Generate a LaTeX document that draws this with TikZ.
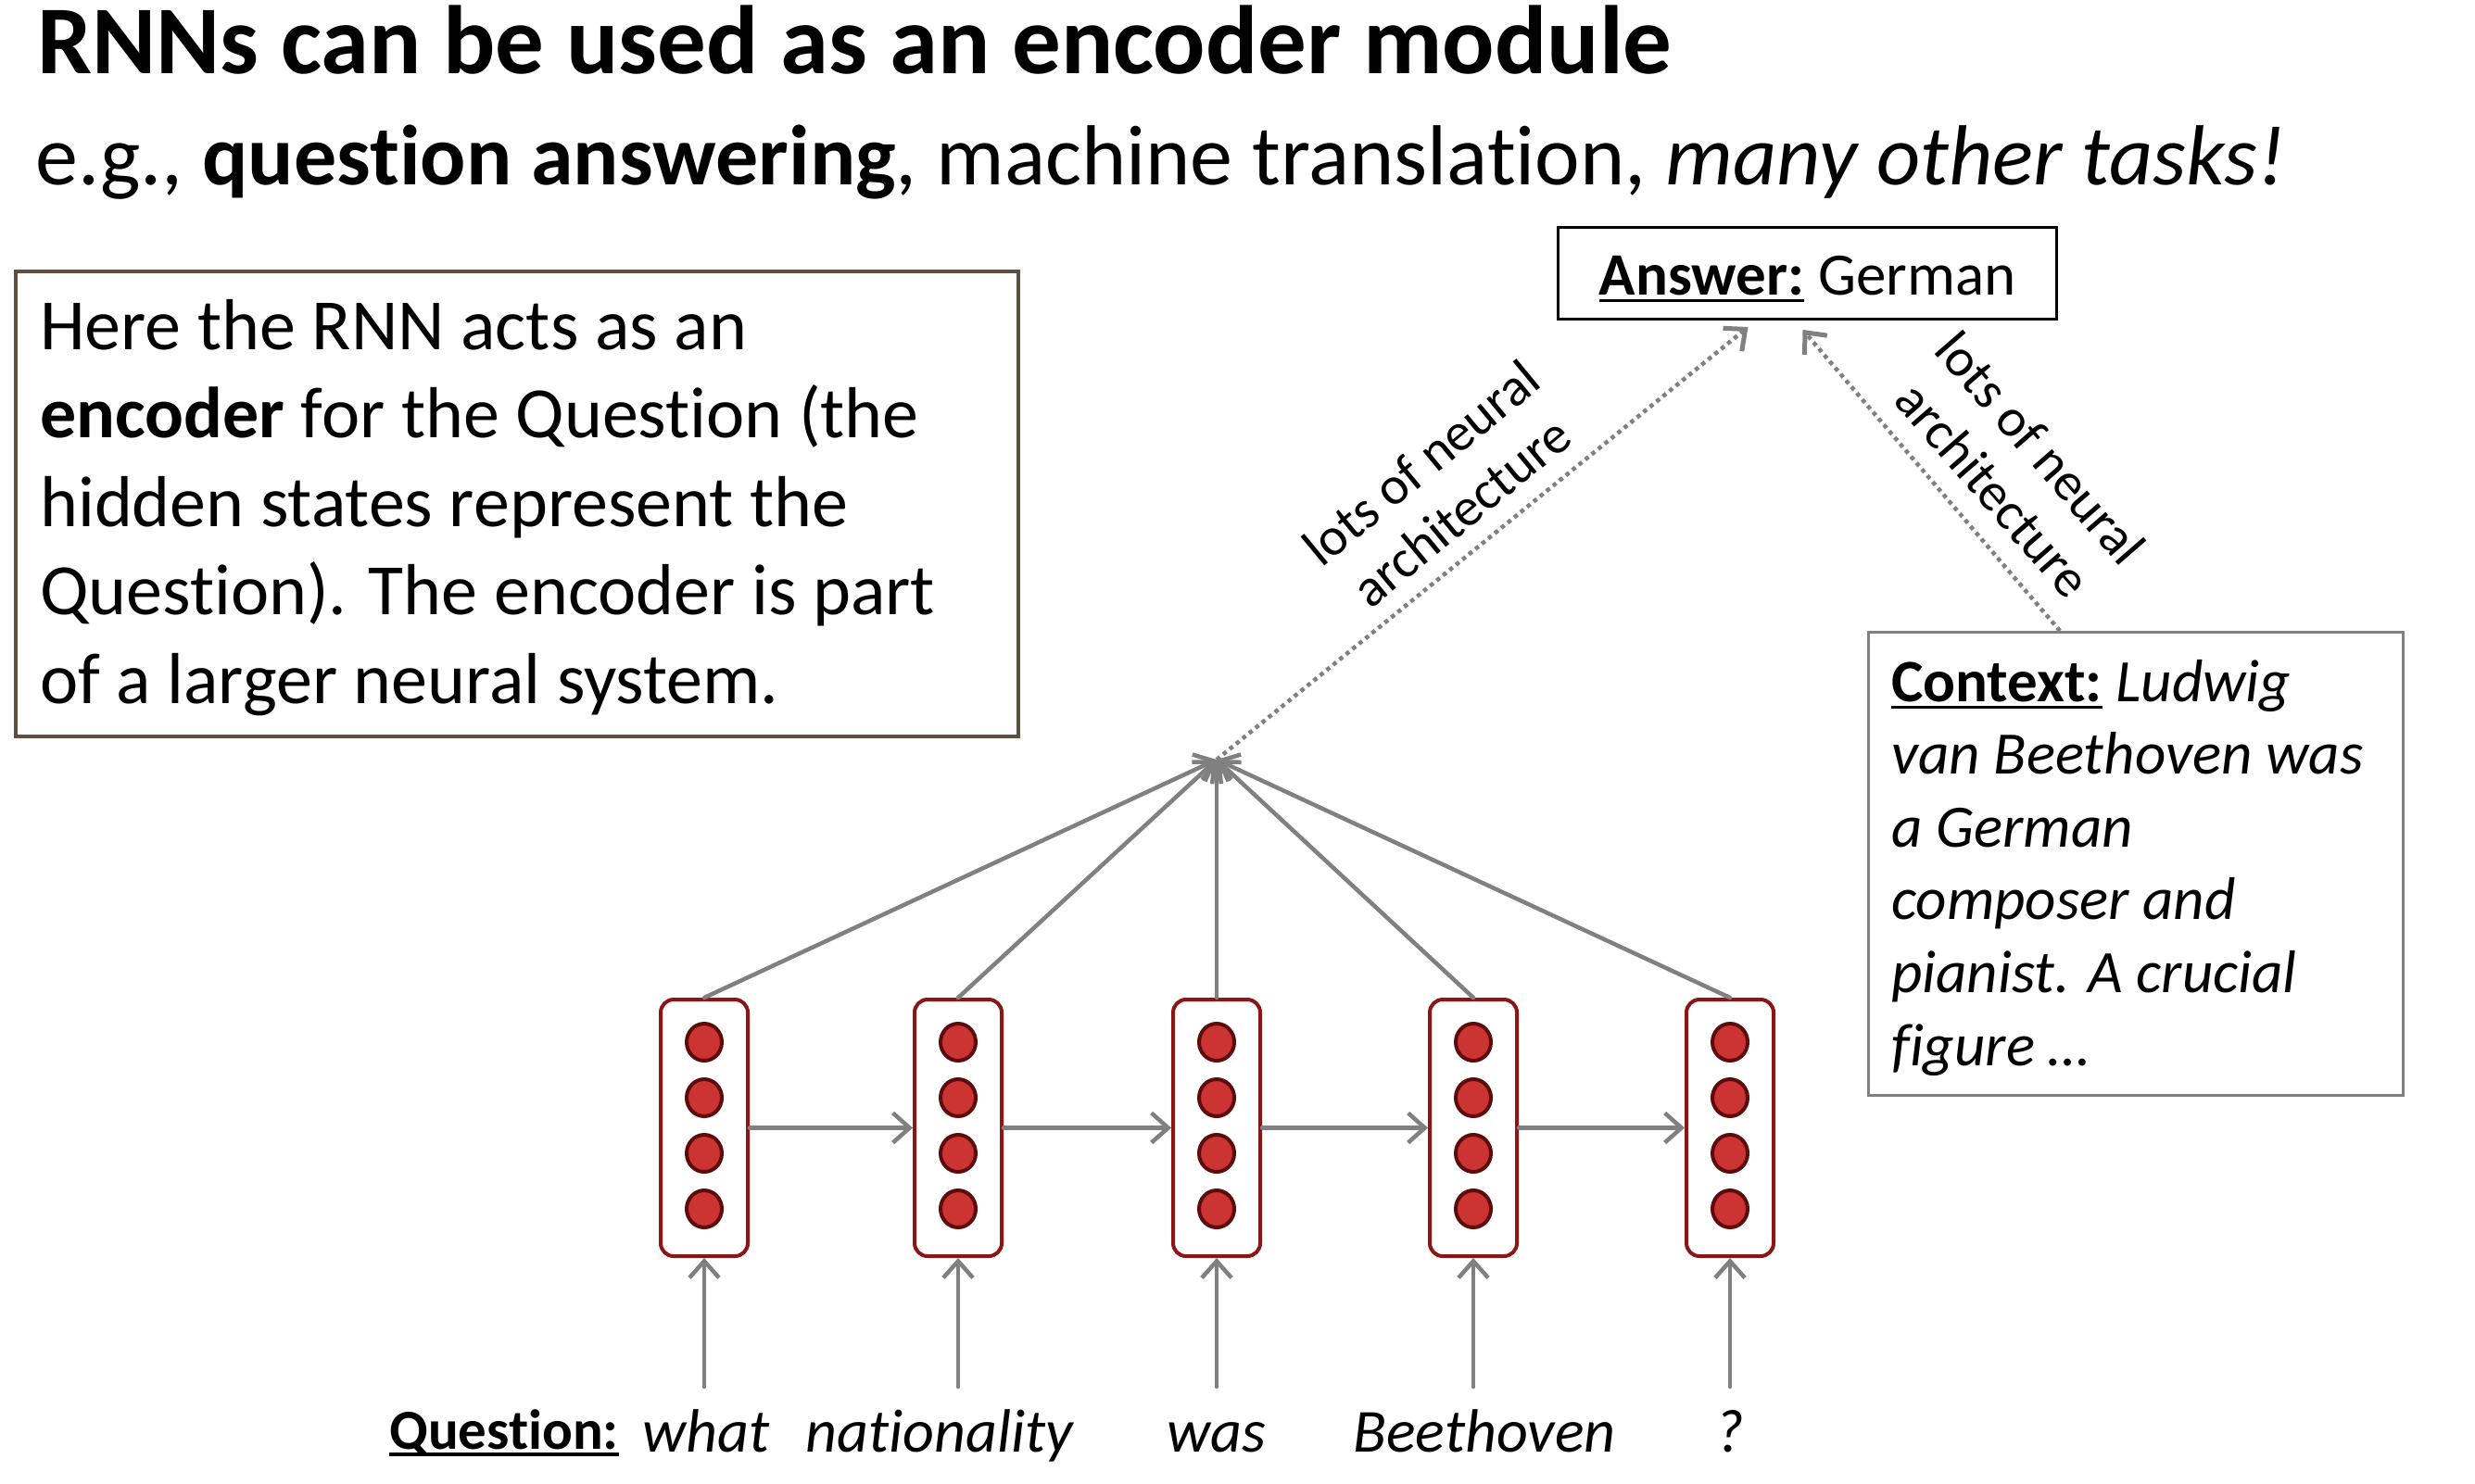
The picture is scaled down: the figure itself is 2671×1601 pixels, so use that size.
\documentclass[tikz,border=0pt]{standalone}
\usepackage{fontspec}
\setmainfont{Carlito}[Ligatures=NoCommon]
\usetikzlibrary{arrows.meta,calc,shapes.geometric}
\definecolor{arrowgray}{RGB}{128,128,128}
\definecolor{cellred}{RGB}{140,22,22}
\definecolor{dotfill}{RGB}{204,51,51}
\definecolor{dotedge}{RGB}{94,11,11}
\definecolor{boxbrown}{RGB}{94,78,62}
\newcommand\myul[1]{\setbox0\hbox{#1}\rlap{\rule[-0.13em]{\wd0}{0.06em}}\box0\relax}
\begin{document}
\begin{tikzpicture}[x=1pt,y=-1pt,
  cell/.style={draw=cellred, line width=4pt, rounded corners=14pt, minimum width=94pt, minimum height=277pt, inner sep=0pt, fill=white},
  dotnode/.style={ellipse, draw=dotedge, fill=dotfill, line width=4pt, minimum width=38pt, minimum height=40pt, inner sep=0pt},
  garrow/.style={draw=arrowgray, line width=4.5pt, line cap=round, -{Straight Barb[length=18pt,width=32pt]}},
  dotarrow/.style={draw=arrowgray, line width=4.5pt, dash pattern=on 4.5pt off 4.5pt, -{Straight Barb[length=18pt,width=32pt,line width=5pt]}},
  qword/.style={anchor=base, inner sep=0pt, font=\fontsize{66}{80}\selectfont\itshape},
  archlabel/.style={align=center, inner sep=0pt, font=\fontsize{58}{68}\selectfont}
]
\fill[white] (0,0) rectangle (2671,1601);
\useasboundingbox (0,0) rectangle (2671,1601);

% titles
\node[anchor=base west, inner sep=0pt, font=\fontsize{105}{126}\selectfont\bfseries] (title) at (40,79) {RNNs can be used as an encoder module};
\node[anchor=base west, inner sep=0pt, font=\fontsize{92}{110}\selectfont] (subtitle) at (38,199) {e.g., \textbf{question answering}, machine translation, \textit{many other tasks!}};

% left explanation box
\node[draw=boxbrown, line width=4pt, minimum width=1082pt, minimum height=502pt, inner sep=0pt, anchor=north west] (leftbox) at (15,291) {};
\node[anchor=base west, inner sep=0pt, font=\fontsize{78}{95.5}\selectfont] (lefttext) at (43,377) {\vtop{%
  \hbox{Here the RNN acts as an}%
  \hbox{\textbf{encoder} for the Question (the}%
  \hbox{hidden states represent the}%
  \hbox{Question). The encoder is part}%
  \hbox{of a larger neural system.}}};

% answer box
\node[draw=black, line width=3pt, minimum width=538pt, minimum height=99pt, inner sep=0pt, text height=60pt, text depth=14pt, font=\fontsize{65}{78}\selectfont] (ans) at (1950.5,295) {\myul{\textbf{Answer:}} German};

% context box
\node[draw=arrowgray, line width=3pt, minimum width=577pt, minimum height=500pt, inner sep=0pt, anchor=north west] (ctx) at (2015,681) {};
\node[anchor=base west, inner sep=0pt, font=\fontsize{65}{78.6}\selectfont] (ctxtext) at (2041,757) {\vtop{%
  \hbox{\myul{\textbf{Context:}} \textit{Ludwig}}%
  \hbox{\textit{van Beethoven was}}%
  \hbox{\textit{a German}}%
  \hbox{\textit{composer and}}%
  \hbox{\textit{pianist. A crucial}}%
  \hbox{\textit{figure \dots}}}};

% RNN cells
\coordinate (conv) at (1313,820);
\foreach \x [count=\i] in {760,1034,1313,1590,1867} {
  \node[cell] (c\i) at (\x,1217.5) {};
  \foreach \k in {1,2,3,4} {
    \node[dotnode] (d\i\k) at (\x,{1125+60*(\k-1)}) {};
  }
  \coordinate (in\i) at (\x,1497);
  \draw[garrow] (in\i) -- (c\i.south);
  \draw[garrow] (c\i.north) -- (conv);
}
\draw[garrow] (c1.east) -- (c2.west);
\draw[garrow] (c2.east) -- (c3.west);
\draw[garrow] (c3.east) -- (c4.west);
\draw[garrow] (c4.east) -- (c5.west);

% dotted connections
\draw[dotarrow] (conv) -- ($(ans.south)+(-64,7)$);
\draw[dotarrow] ($(ctx.north)+(-82,0)$) -- ($(ans.south)+(-5,10)$);

\node[archlabel, rotate=39.5] (lab1) at (1555,526) {lots of neural\\architecture};
\node[archlabel, rotate=-49] (lab2) at (2177,506) {lots of neural\\architecture};

% question words
\node[anchor=base west, inner sep=0pt, font=\fontsize{61}{74}\selectfont] (qlabel) at (420,1564) {\myul{\textbf{Question:}}};
\node[qword] (w1) at (762,1567) {what};
\node[qword] (w2) at (1014,1567) {nationality};
\node[qword] (w3) at (1313,1567) {was};
\node[qword] (w4) at (1602,1567) {Beethoven};
\node[qword] (w5) at (1867,1567) {?};
\end{tikzpicture}
\end{document}
